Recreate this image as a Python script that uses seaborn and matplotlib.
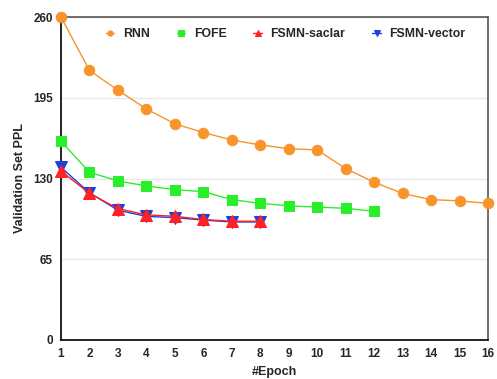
import numpy as np
import pandas as pd
import matplotlib
matplotlib.use('Agg')
import seaborn as sns
import matplotlib.pyplot as plt

# values
rnn_epochs = list(range(1, 17))
rnn_ppl = [260, 217, 201, 186, 174, 167, 161, 157, 154, 153, 138, 127, 118, 113, 112, 110]

fofe_epochs = list(range(1, 13))
fofe_ppl = [160, 135, 128, 124, 121, 119.4, 113, 110, 108, 107, 106, 103.6]

fsmn_epochs = list(range(1, 9))
scalar_ppl = [136, 118, 105.8, 100.7, 99.6, 97, 95.6, 95.6]
vector_ppl = [139, 118.5, 104.5, 99.5, 98.5, 96.5, 95, 95]

y_ticks = [0, 65, 130, 195, 260]

sns.set_theme(style='white')
plt.rcParams['font.family'] = ['Liberation Sans', 'DejaVu Sans']
plt.rcParams['font.weight'] = 'bold'

fig = plt.figure(figsize=(4.97, 3.79), dpi=100)
ax = fig.add_axes([61/497, 1 - 340/379, (488 - 61)/497, (340 - 17)/379])

series = [
    ('RNN', rnn_epochs, rnn_ppl, '#F7942B', 'o', 7.5),
    ('FOFE', fofe_epochs, fofe_ppl, '#2BEE2B', 's', 7.5),
    ('FSMN-vector', fsmn_epochs, vector_ppl, '#1F3FE0', 'v', 8),
    ('FSMN-saclar', fsmn_epochs, scalar_ppl, '#FF2222', '^', 8.5),
]
for name, x, y, col, mk, ms in series:
    df = pd.DataFrame({'epoch': x, 'ppl': y})
    sns.lineplot(data=df, x='epoch', y='ppl', ax=ax, color=col, marker=mk,
                 markersize=ms, markeredgecolor=col, linewidth=1.0,
                 label=name, clip_on=False, zorder=3)

ax.set_xlim(1, 16)
ax.set_ylim(0, 260)
ax.set_xticks(range(1, 17))
ax.set_yticks(y_ticks)
ax.tick_params(axis='both', length=0, labelsize=8.5, pad=6)
for lab in ax.get_xticklabels() + ax.get_yticklabels():
    lab.set_fontweight('bold')
ax.yaxis.grid(True, color='#e8e8e8', linewidth=1)
ax.set_axisbelow(True)
ax.set_xlabel('#Epoch', fontsize=9, fontweight='bold', labelpad=4)
ax.set_ylabel('Validation Set PPL', fontsize=9, fontweight='bold', labelpad=5)

ax.spines['left'].set_color('black')
ax.spines['bottom'].set_color('black')
ax.spines['top'].set_color('#555555')
ax.spines['right'].set_color('#555555')
for s in ax.spines.values():
    s.set_linewidth(1.2)

h, l = ax.get_legend_handles_labels()
order = [0, 1, 3, 2]
ax.legend([h[i] for i in order], [l[i] for i in order], ncol=4, frameon=False,
          loc='upper center', bbox_to_anchor=(0.526, 1.0), markerscale=0.5,
          handlelength=0.7, columnspacing=2.2, handletextpad=0.7,
          prop={'weight': 'bold', 'size': 8.8})

fig.savefig('out.png', dpi=100)
